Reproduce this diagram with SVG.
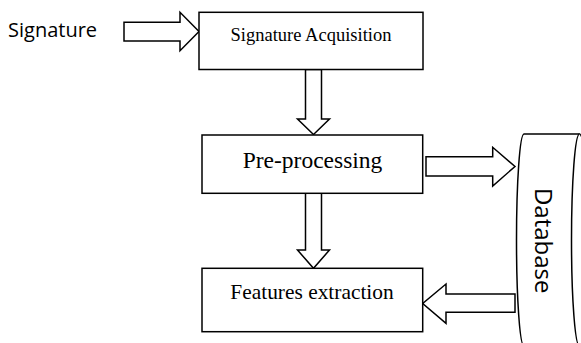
<svg xmlns="http://www.w3.org/2000/svg" width="581" height="343" viewBox="0 0 581 343">
  <style>
    .box { fill: #ffffff; stroke: #000000; stroke-width: 1.5; }
    .arrow { fill: #ffffff; stroke: #000000; stroke-width: 1.5; stroke-linejoin: miter; }
    .serif { font-family: "Liberation Serif", "Times New Roman", serif; fill: #000000; }
    .sans { font-family: "Open Sans", "Noto Sans", sans-serif; fill: #000000; }
  </style>
  <rect width="581" height="343" fill="#ffffff"/>

  <!-- block arrows between the stages -->
  <g id="connectors">
    <polygon class="arrow" points="124,22.3 180,22.3 180,12.3 199,31.5 180,50.7 180,41 124,41"/>
    <polygon class="arrow" points="305.5,69.5 321.5,69.5 321.5,119 329.5,119 313.5,134.5 297.5,119 305.5,119"/>
    <polygon class="arrow" points="305.5,193.3 321.5,193.3 321.5,250 329.5,250 313.5,268.3 297.5,250 305.5,250"/>
    <polygon class="arrow" points="426,156.7 492.7,156.7 492.7,147.3 515,166.5 492.7,186 492.7,176 426,176"/>
    <polygon class="arrow" points="515,294 446,294 446,284 422.7,303.5 446,323.3 446,312.3 515,312.3"/>
  </g>

  <g id="input-label">
    <text class="sans" x="8" y="37.3" font-size="20">Signature</text>
  </g>

  <g id="acquisition">
    <rect class="box" x="199" y="12.3" width="224" height="57.2"/>
    <text class="serif" x="311" y="41" font-size="18.5" text-anchor="middle">Signature Acquisition</text>
  </g>

  <g id="preprocessing">
    <rect class="box" x="202" y="135" width="220.7" height="58.3"/>
    <text class="serif" x="312.5" y="168.3" font-size="23.5" text-anchor="middle">Pre-processing</text>
  </g>

  <g id="features">
    <rect class="box" x="202" y="268.3" width="220.7" height="63.4"/>
    <text class="serif" x="312" y="299" font-size="21.4" text-anchor="middle">Features extraction</text>
  </g>

  <!-- database drawn as a cylinder lying on its side -->
  <g id="database">
    <path class="box" d="M524,134 H579.5 A8,106 0 0 1 579.5,346 H524 A7.5,106 0 0 1 524,134 Z"/>
    <path class="box" fill="none" d="M579.5,134 A8,106 0 0 0 579.5,346"/>
    <text class="sans" font-size="24" text-anchor="middle" transform="translate(535,240.7) rotate(90)">Database</text>
  </g>
</svg>
